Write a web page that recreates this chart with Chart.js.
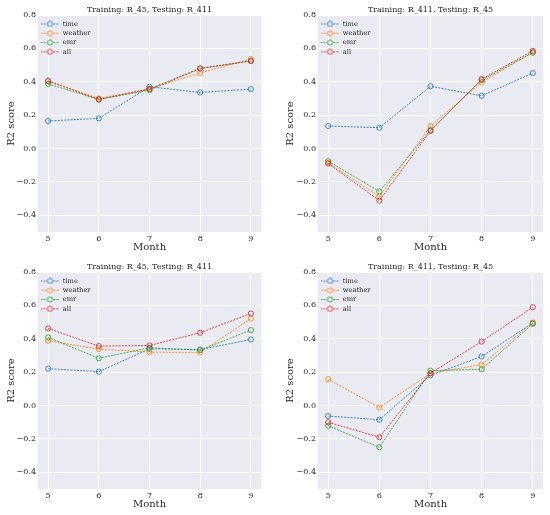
<!DOCTYPE html>
<html lang="en">

<head>
    <meta charset="UTF-8">
    <title>R2 score by month</title>
    <script src="https://cdn.jsdelivr.net/npm/chart.js"></script>
    <style>
        body {
            margin: 0;
            background: #ffffff;
        }

        #wrap {
            position: relative;
            width: 550px;
            height: 515px;
        }

        canvas {
            position: absolute;
        }
    </style>
</head>

<body>
    <div id="wrap">
        <canvas id="chartA" width="275" height="257" style="left:0;top:0"></canvas>
        <canvas id="chartB" width="275" height="257" style="left:275px;top:0"></canvas>
        <canvas id="chartC" width="275" height="257" style="left:0;top:257px"></canvas>
        <canvas id="chartD" width="275" height="257" style="left:275px;top:257px"></canvas>
    </div>

    <script>
        const months = [5, 6, 7, 8, 9];
        const yTicks = [-0.4, -0.2, 0.0, 0.2, 0.4, 0.6, 0.8];
        const seriesNames = ['time', 'weather', 'emr', 'all'];
        const seriesColors = ['rgba(31,119,180,0.85)', 'rgba(255,127,14,0.85)', 'rgba(44,160,44,0.85)', 'rgba(214,39,40,0.85)'];

        // top left
        const titleA = 'Training: R_45, Testing: R_411';
        const timeA = [0.165, 0.181, 0.370, 0.336, 0.356];
        const weatherA = [0.403, 0.300, 0.357, 0.453, 0.536];
        const emrA = [0.387, 0.294, 0.350, 0.480, 0.526];
        const allA = [0.405, 0.294, 0.357, 0.480, 0.524];

        // top right
        const titleB = 'Training: R_411, Testing: R_45';
        const timeB = [0.135, 0.125, 0.373, 0.316, 0.452];
        const weatherB = [-0.085, -0.287, 0.135, 0.396, 0.578];
        const emrB = [-0.076, -0.257, 0.110, 0.410, 0.574];
        const allB = [-0.090, -0.312, 0.105, 0.416, 0.585];

        // bottom left
        const titleC = 'Training: R_45, Testing: R_411';
        const timeC = [0.221, 0.203, 0.340, 0.335, 0.396];
        const weatherC = [0.388, 0.338, 0.320, 0.318, 0.521];
        const emrC = [0.408, 0.283, 0.346, 0.332, 0.452];
        const allC = [0.462, 0.356, 0.360, 0.436, 0.551];

        // bottom right
        const titleD = 'Training: R_411, Testing: R_45';
        const timeD = [-0.063, -0.085, 0.181, 0.294, 0.494];
        const weatherD = [0.158, -0.012, 0.193, 0.245, 0.498];
        const emrD = [-0.121, -0.250, 0.209, 0.217, 0.490];
        const allD = [-0.100, -0.190, 0.193, 0.383, 0.589];

        const FONT = "'DejaVu Serif', 'Liberation Serif', serif";
        const TEXT = '#262626';
        const PANEL_BG = '#eaeaf2';

        // little legend handle: dashed line with a hollow circle in the middle
        function legendHandle(color) {
            const c = document.createElement('canvas');
            c.width = 19;
            c.height = 7;
            const ctx = c.getContext('2d');
            ctx.strokeStyle = color;
            ctx.lineWidth = 1;
            ctx.setLineDash([2, 1.2]);
            ctx.beginPath();
            ctx.moveTo(0, 3.5);
            ctx.lineTo(19, 3.5);
            ctx.stroke();
            ctx.setLineDash([]);
            ctx.beginPath();
            ctx.arc(9.5, 3.5, 2.6, 0, Math.PI * 2);
            ctx.fillStyle = PANEL_BG;
            ctx.fill();
            ctx.stroke();
            return c;
        }

        // grey panel behind the grid, seaborn style
        const panelBackground = {
            id: 'panelBackground',
            beforeDraw(chart) {
                const a = chart.chartArea;
                const ctx = chart.ctx;
                ctx.save();
                ctx.fillStyle = PANEL_BG;
                ctx.fillRect(a.left, a.top, a.right - a.left, a.bottom - a.top);
                ctx.restore();
            },
            // the vertical chartArea legend resets its top to 0, move it back inside the panel
            afterLayout(chart) {
                const lg = chart.legend;
                if (!lg) return;
                const h = lg.bottom - lg.top;
                lg.top = chart.chartArea.top + 3;
                lg.bottom = lg.top + h;
            }
        };

        function createPanel(canvasId, title, values, isRight) {
            const datasets = values.map((vals, i) => ({
                label: seriesNames[i],
                data: months.map((m, j) => ({ x: m, y: vals[j] })),
                borderColor: seriesColors[i],
                borderWidth: 1,
                borderDash: [2, 1.2],
                legendStyle: legendHandle(seriesColors[i]),
                pointStyle: 'circle',
                pointRadius: 2.6,
                pointBorderWidth: 1,
                pointBorderColor: seriesColors[i],
                pointBackgroundColor: 'rgba(0,0,0,0)',
                order: values.length - 1 - i,
                tension: 0
            }));

            const ctx = document.getElementById(canvasId).getContext('2d');
            new Chart(ctx, {
                type: 'line',
                data: { datasets: datasets },
                options: {
                    responsive: false,
                    animation: false,
                    devicePixelRatio: 1,
                    layout: {
                        padding: { left: 0, right: isRight ? 7 : 14, top: 0, bottom: 0 }
                    },
                    scales: {
                        x: {
                            type: 'linear',
                            min: 4.8,
                            max: 9.2,
                            afterBuildTicks: s => { s.ticks = months.map(v => ({ value: v })); },
                            afterFit: s => { s.height = 25; },
                            border: { display: false },
                            grid: { color: '#ffffff', lineWidth: 1, drawTicks: false },
                            ticks: {
                                padding: 2,
                                color: TEXT,
                                font: { family: FONT, size: 8 },
                                callback: v => String(v)
                            },
                            title: {
                                display: true,
                                text: 'Month',
                                color: TEXT,
                                font: { family: FONT, size: 10 },
                                padding: { top: 0, bottom: 4 }
                            }
                        },
                        y: {
                            min: -0.5,
                            max: 0.8,
                            afterBuildTicks: s => { s.ticks = yTicks.map(v => ({ value: v })); },
                            afterFit: s => { s.width = isRight ? 43 : 38; },
                            border: { display: false },
                            grid: { color: '#ffffff', lineWidth: 1, drawTicks: false },
                            ticks: {
                                padding: 2,
                                color: TEXT,
                                font: { family: FONT, size: 8 },
                                callback: v => v.toFixed(1).replace('-', '\u2212')
                            },
                            title: {
                                display: true,
                                text: 'R2 score',
                                color: TEXT,
                                font: { family: FONT, size: 10 },
                                padding: { top: isRight ? 9 : 5, bottom: 0 }
                            }
                        }
                    },
                    plugins: {
                        title: {
                            display: true,
                            fullSize: false,
                            text: title,
                            color: TEXT,
                            font: { family: FONT, size: 8, weight: 'normal' },
                            padding: { top: 5.2, bottom: 0.2 }
                        },
                        legend: {
                            position: 'chartArea',
                            align: 'start',
                            labels: {
                                usePointStyle: true,
                                pointStyleWidth: 18.8,
                                padding: 2.6,
                                color: TEXT,
                                font: { family: FONT, size: 6.7 },
                                sort: (a, b) => a.datasetIndex - b.datasetIndex,
                                generateLabels: chart => chart.data.datasets.map((d, i) => ({
                                    text: d.label,
                                    datasetIndex: i,
                                    pointStyle: d.legendStyle,
                                    strokeStyle: d.borderColor,
                                    fillStyle: 'rgba(0,0,0,0)',
                                    fontColor: TEXT,
                                    lineWidth: 0,
                                    hidden: false
                                }))
                            }
                        },
                        tooltip: { enabled: false }
                    }
                },
                plugins: [panelBackground]
            });
        }

        createPanel('chartA', titleA, [timeA, weatherA, emrA, allA], false);
        createPanel('chartB', titleB, [timeB, weatherB, emrB, allB], true);
        createPanel('chartC', titleC, [timeC, weatherC, emrC, allC], false);
        createPanel('chartD', titleD, [timeD, weatherD, emrD, allD], true);
    </script>
</body>

</html>
